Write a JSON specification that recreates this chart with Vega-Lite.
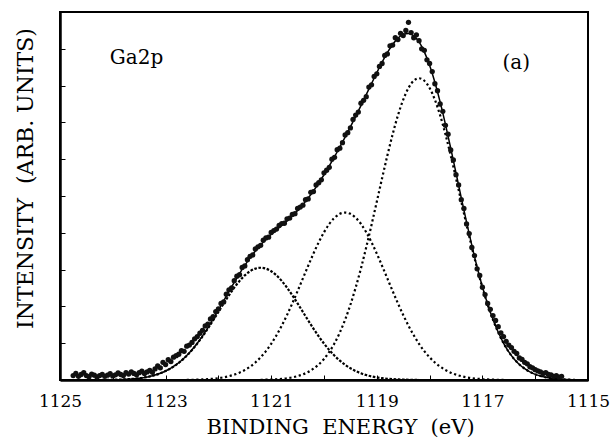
{
  "$schema": "https://vega.github.io/schema/vega-lite/v6.json",
  "width": 528,
  "height": 368,
  "autosize": {"type": "none"},
  "padding": {"left": 60, "top": 12, "right": 23, "bottom": 58},
  "background": "white",
  "config": {
    "view": {"stroke": "black", "strokeWidth": 2},
    "font": "DejaVu Serif",
    "axisY": {
      "values": [0,1,2,3,4,5,6,7,8,9,10],
      "labels": false,
      "grid": false,
      "domain": true,
      "domainColor": "black",
      "domainWidth": 2.5,
      "ticks": true,
      "tickSize": -5,
      "tickColor": "black",
      "tickWidth": 1,
      "titleFont": "DejaVu Serif",
      "titleFontSize": 22,
      "titleFontWeight": "normal",
      "titleColor": "black",
      "titleAngle": 270,
      "titleBaseline": "alphabetic",
      "titleAlign": "center",
      "titleX": -28,
      "titleY": 166
    },
    "axisX": {
      "grid": false,
      "domain": true,
      "domainColor": "black",
      "domainWidth": 2.5,
      "ticks": true,
      "tickSize": -5,
      "tickColor": "black",
      "tickWidth": 1,
      "labelFlush": false,
      "labelOverlap": false,
      "labelFont": "DejaVu Serif",
      "labelFontSize": 17,
      "labelColor": "black",
      "labelBaseline": "alphabetic",
      "labelPadding": 31,
      "titleFont": "DejaVu Serif",
      "titleFontSize": 21,
      "titleFontWeight": "normal",
      "titleColor": "black",
      "titleBaseline": "alphabetic",
      "titleX": 280,
      "titleY": 53
    }
  },
  "datasets": {
    "obs": [
      {"e":1124.75,"i":0.12},{"e":1124.70,"i":0.18},{"e":1124.65,"i":0.10},{"e":1124.60,"i":0.15},{"e":1124.55,"i":0.20},
      {"e":1124.50,"i":0.12},{"e":1124.45,"i":0.09},{"e":1124.40,"i":0.16},{"e":1124.35,"i":0.13},{"e":1124.30,"i":0.08},
      {"e":1124.25,"i":0.12},{"e":1124.20,"i":0.15},{"e":1124.15,"i":0.10},{"e":1124.10,"i":0.13},{"e":1124.05,"i":0.17},
      {"e":1124.00,"i":0.11},{"e":1123.95,"i":0.14},{"e":1123.90,"i":0.19},{"e":1123.85,"i":0.15},{"e":1123.80,"i":0.12},
      {"e":1123.75,"i":0.20},{"e":1123.70,"i":0.16},{"e":1123.65,"i":0.22},{"e":1123.60,"i":0.18},{"e":1123.55,"i":0.14},
      {"e":1123.50,"i":0.20},{"e":1123.45,"i":0.24},{"e":1123.40,"i":0.18},{"e":1123.35,"i":0.22},{"e":1123.30,"i":0.26},
      {"e":1123.25,"i":0.21},
      {"e":1123.20,"i":0.30},{"e":1123.15,"i":0.38},{"e":1123.10,"i":0.33},{"e":1123.05,"i":0.48},{"e":1123.00,"i":0.42},
      {"e":1122.95,"i":0.55},{"e":1122.90,"i":0.50},{"e":1122.85,"i":0.62},{"e":1122.80,"i":0.66},{"e":1122.75,"i":0.70},
      {"e":1122.70,"i":0.80},{"e":1122.65,"i":0.78},{"e":1122.60,"i":0.92},{"e":1122.55,"i":0.95},{"e":1122.50,"i":1.02},
      {"e":1122.45,"i":1.12},{"e":1122.40,"i":1.18},{"e":1122.35,"i":1.27},{"e":1122.30,"i":1.35},{"e":1122.25,"i":1.47},
      {"e":1122.20,"i":1.52},{"e":1122.15,"i":1.66},{"e":1122.10,"i":1.72},{"e":1122.05,"i":1.86},{"e":1122.00,"i":1.93},
      {"e":1121.95,"i":2.08},{"e":1121.90,"i":2.12},{"e":1121.85,"i":2.33},{"e":1121.80,"i":2.45},{"e":1121.75,"i":2.50},
      {"e":1121.70,"i":2.70},{"e":1121.65,"i":2.82},{"e":1121.60,"i":2.86},{"e":1121.55,"i":3.06},{"e":1121.50,"i":3.10},
      {"e":1121.45,"i":3.27},{"e":1121.40,"i":3.36},{"e":1121.35,"i":3.40},{"e":1121.30,"i":3.56},{"e":1121.25,"i":3.62},
      {"e":1121.20,"i":3.66},{"e":1121.15,"i":3.80},{"e":1121.10,"i":3.86},{"e":1121.05,"i":3.88},{"e":1121.00,"i":4.01},
      {"e":1120.95,"i":4.06},{"e":1120.90,"i":4.10},{"e":1120.85,"i":4.20},{"e":1120.80,"i":4.25},{"e":1120.75,"i":4.26},
      {"e":1120.70,"i":4.38},{"e":1120.65,"i":4.40},{"e":1120.60,"i":4.50},{"e":1120.55,"i":4.52},{"e":1120.50,"i":4.66},
      {"e":1120.45,"i":4.70},{"e":1120.40,"i":4.75},{"e":1120.35,"i":4.90},{"e":1120.30,"i":4.92},{"e":1120.25,"i":5.10},
      {"e":1120.20,"i":5.12},{"e":1120.15,"i":5.30},{"e":1120.10,"i":5.36},{"e":1120.05,"i":5.44},{"e":1120.00,"i":5.63},
      {"e":1119.95,"i":5.70},{"e":1119.90,"i":5.78},{"e":1119.85,"i":6.00},{"e":1119.80,"i":6.05},{"e":1119.75,"i":6.26},
      {"e":1119.70,"i":6.30},{"e":1119.65,"i":6.45},{"e":1119.60,"i":6.66},{"e":1119.55,"i":6.72},{"e":1119.50,"i":6.85},
      {"e":1119.45,"i":7.08},{"e":1119.40,"i":7.20},{"e":1119.35,"i":7.28},{"e":1119.30,"i":7.52},{"e":1119.25,"i":7.60},
      {"e":1119.20,"i":7.70},{"e":1119.15,"i":7.96},{"e":1119.10,"i":8.02},{"e":1119.05,"i":8.25},{"e":1119.00,"i":8.32},
      {"e":1118.95,"i":8.52},{"e":1118.90,"i":8.60},{"e":1118.85,"i":8.82},{"e":1118.80,"i":8.86},{"e":1118.75,"i":9.08},
      {"e":1118.70,"i":9.10},{"e":1118.65,"i":9.30},{"e":1118.60,"i":9.25},{"e":1118.55,"i":9.42},{"e":1118.50,"i":9.36},
      {"e":1118.45,"i":9.50},{"e":1118.40,"i":9.72},{"e":1118.35,"i":9.44},{"e":1118.30,"i":9.30},{"e":1118.25,"i":9.38},
      {"e":1118.20,"i":9.22},{"e":1118.15,"i":9.00},{"e":1118.10,"i":8.96},{"e":1118.05,"i":8.70},{"e":1118.00,"i":8.60},
      {"e":1117.95,"i":8.38},{"e":1117.90,"i":8.05},{"e":1117.85,"i":7.86},{"e":1117.80,"i":7.50},{"e":1117.75,"i":7.30},
      {"e":1117.70,"i":6.92},{"e":1117.65,"i":6.68},{"e":1117.60,"i":6.25},{"e":1117.55,"i":5.98},{"e":1117.50,"i":5.58},
      {"e":1117.45,"i":5.30},{"e":1117.40,"i":4.90},{"e":1117.35,"i":4.66},{"e":1117.30,"i":4.24},{"e":1117.25,"i":3.98},
      {"e":1117.20,"i":3.60},{"e":1117.15,"i":3.38},{"e":1117.10,"i":3.02},{"e":1117.05,"i":2.84},{"e":1117.00,"i":2.52},
      {"e":1116.95,"i":2.32},{"e":1116.90,"i":2.08},{"e":1116.85,"i":1.92},{"e":1116.80,"i":1.75},{"e":1116.75,"i":1.62},
      {"e":1116.70,"i":1.45},{"e":1116.65,"i":1.28},{"e":1116.60,"i":1.18},{"e":1116.55,"i":1.05},{"e":1116.50,"i":0.95},
      {"e":1116.45,"i":0.88},{"e":1116.40,"i":0.78},{"e":1116.35,"i":0.72},{"e":1116.30,"i":0.60},{"e":1116.25,"i":0.56},
      {"e":1116.20,"i":0.48},{"e":1116.15,"i":0.44},{"e":1116.10,"i":0.36},{"e":1116.05,"i":0.33},{"e":1116.00,"i":0.28},
      {"e":1115.95,"i":0.25},{"e":1115.90,"i":0.22},{"e":1115.85,"i":0.18},{"e":1115.80,"i":0.20},{"e":1115.75,"i":0.15},
      {"e":1115.70,"i":0.14},{"e":1115.65,"i":0.10},{"e":1115.60,"i":0.12},{"e":1115.55,"i":0.08},{"e":1115.50,"i":0.10}
    ],
    "fit": [
      {"e":1124.7,"c1":null,"c2":null,"c3":null,"t":0.0},
      {"e":1124.6,"c1":null,"c2":null,"c3":null,"t":0.0},
      {"e":1124.5,"c1":null,"c2":null,"c3":null,"t":0.001},
      {"e":1124.4,"c1":null,"c2":null,"c3":null,"t":0.001},
      {"e":1124.3,"c1":null,"c2":null,"c3":null,"t":0.002},
      {"e":1124.2,"c1":0.003,"c2":null,"c3":null,"t":0.003},
      {"e":1124.1,"c1":0.004,"c2":null,"c3":null,"t":0.004},
      {"e":1124.0,"c1":0.007,"c2":null,"c3":null,"t":0.007},
      {"e":1123.9,"c1":0.010,"c2":null,"c3":null,"t":0.010},
      {"e":1123.8,"c1":0.016,"c2":null,"c3":null,"t":0.016},
      {"e":1123.7,"c1":0.023,"c2":null,"c3":null,"t":0.023},
      {"e":1123.6,"c1":0.034,"c2":null,"c3":null,"t":0.034},
      {"e":1123.5,"c1":0.049,"c2":null,"c3":null,"t":0.049},
      {"e":1123.4,"c1":0.070,"c2":null,"c3":null,"t":0.070},
      {"e":1123.3,"c1":0.097,"c2":null,"c3":null,"t":0.097},
      {"e":1123.2,"c1":0.134,"c2":null,"c3":null,"t":0.134},
      {"e":1123.1,"c1":0.182,"c2":null,"c3":null,"t":0.182},
      {"e":1123.0,"c1":0.243,"c2":null,"c3":null,"t":0.244},
      {"e":1122.9,"c1":0.319,"c2":null,"c3":null,"t":0.320},
      {"e":1122.8,"c1":0.413,"c2":null,"c3":null,"t":0.415},
      {"e":1122.7,"c1":0.526,"c2":null,"c3":null,"t":0.529},
      {"e":1122.6,"c1":0.660,"c2":0.004,"c3":null,"t":0.664},
      {"e":1122.5,"c1":0.815,"c2":0.006,"c3":null,"t":0.821},
      {"e":1122.4,"c1":0.990,"c2":0.010,"c3":null,"t":1.000},
      {"e":1122.3,"c1":1.185,"c2":0.015,"c3":null,"t":1.200},
      {"e":1122.2,"c1":1.396,"c2":0.023,"c3":null,"t":1.419},
      {"e":1122.1,"c1":1.620,"c2":0.035,"c3":null,"t":1.655},
      {"e":1122.0,"c1":1.850,"c2":0.051,"c3":null,"t":1.901},
      {"e":1121.9,"c1":2.080,"c2":0.073,"c3":null,"t":2.153},
      {"e":1121.8,"c1":2.302,"c2":0.104,"c3":null,"t":2.406},
      {"e":1121.7,"c1":2.509,"c2":0.145,"c3":null,"t":2.654},
      {"e":1121.6,"c1":2.692,"c2":0.200,"c3":null,"t":2.892},
      {"e":1121.5,"c1":2.843,"c2":0.271,"c3":null,"t":3.114},
      {"e":1121.4,"c1":2.956,"c2":0.362,"c3":null,"t":3.320},
      {"e":1121.3,"c1":3.026,"c2":0.476,"c3":null,"t":3.505},
      {"e":1121.2,"c1":3.050,"c2":0.616,"c3":0.005,"t":3.671},
      {"e":1121.1,"c1":3.026,"c2":0.784,"c3":0.008,"t":3.818},
      {"e":1121.0,"c1":2.956,"c2":0.984,"c3":0.013,"t":3.953},
      {"e":1120.9,"c1":2.843,"c2":1.215,"c3":0.021,"t":4.079},
      {"e":1120.8,"c1":2.692,"c2":1.477,"c3":0.032,"t":4.201},
      {"e":1120.7,"c1":2.509,"c2":1.768,"c3":0.048,"t":4.325},
      {"e":1120.6,"c1":2.302,"c2":2.083,"c3":0.072,"t":4.457},
      {"e":1120.5,"c1":2.080,"c2":2.417,"c3":0.107,"t":4.604},
      {"e":1120.4,"c1":1.850,"c2":2.760,"c3":0.153,"t":4.763},
      {"e":1120.3,"c1":1.620,"c2":3.103,"c3":0.219,"t":4.942},
      {"e":1120.2,"c1":1.396,"c2":3.434,"c3":0.307,"t":5.137},
      {"e":1120.1,"c1":1.185,"c2":3.743,"c3":0.422,"t":5.350},
      {"e":1120.0,"c1":0.990,"c2":4.015,"c3":0.572,"t":5.577},
      {"e":1119.9,"c1":0.815,"c2":4.241,"c3":0.763,"t":5.819},
      {"e":1119.8,"c1":0.660,"c2":4.410,"c3":1.000,"t":6.070},
      {"e":1119.7,"c1":0.526,"c2":4.515,"c3":1.291,"t":6.332},
      {"e":1119.6,"c1":0.413,"c2":4.550,"c3":1.638,"t":6.601},
      {"e":1119.5,"c1":0.319,"c2":4.515,"c3":2.045,"t":6.879},
      {"e":1119.4,"c1":0.243,"c2":4.410,"c3":2.512,"t":7.165},
      {"e":1119.3,"c1":0.182,"c2":4.241,"c3":3.034,"t":7.457},
      {"e":1119.2,"c1":0.134,"c2":4.015,"c3":3.606,"t":7.755},
      {"e":1119.1,"c1":0.097,"c2":3.743,"c3":4.215,"t":8.055},
      {"e":1119.0,"c1":0.070,"c2":3.434,"c3":4.846,"t":8.350},
      {"e":1118.9,"c1":0.049,"c2":3.103,"c3":5.483,"t":8.635},
      {"e":1118.8,"c1":0.034,"c2":2.760,"c3":6.100,"t":8.894},
      {"e":1118.7,"c1":0.023,"c2":2.417,"c3":6.677,"t":9.117},
      {"e":1118.6,"c1":0.016,"c2":2.083,"c3":7.190,"t":9.289},
      {"e":1118.5,"c1":0.010,"c2":1.768,"c3":7.615,"t":9.393},
      {"e":1118.4,"c1":0.007,"c2":1.477,"c3":7.935,"t":9.419},
      {"e":1118.3,"c1":0.004,"c2":1.215,"c3":8.133,"t":9.352},
      {"e":1118.2,"c1":0.003,"c2":0.984,"c3":8.200,"t":9.187},
      {"e":1118.1,"c1":null,"c2":0.784,"c3":8.133,"t":8.917},
      {"e":1118.0,"c1":null,"c2":0.616,"c3":7.935,"t":8.551},
      {"e":1117.9,"c1":null,"c2":0.476,"c3":7.615,"t":8.091},
      {"e":1117.8,"c1":null,"c2":0.362,"c3":7.190,"t":7.552},
      {"e":1117.7,"c1":null,"c2":0.271,"c3":6.677,"t":6.948},
      {"e":1117.6,"c1":null,"c2":0.200,"c3":6.100,"t":6.300},
      {"e":1117.5,"c1":null,"c2":0.145,"c3":5.483,"t":5.628},
      {"e":1117.4,"c1":null,"c2":0.104,"c3":4.846,"t":4.950},
      {"e":1117.3,"c1":null,"c2":0.073,"c3":4.215,"t":4.288},
      {"e":1117.2,"c1":null,"c2":0.051,"c3":3.606,"t":3.657},
      {"e":1117.1,"c1":null,"c2":0.035,"c3":3.034,"t":3.069},
      {"e":1117.0,"c1":null,"c2":0.023,"c3":2.512,"t":2.535},
      {"e":1116.9,"c1":null,"c2":0.015,"c3":2.045,"t":2.060},
      {"e":1116.8,"c1":null,"c2":0.010,"c3":1.638,"t":1.648},
      {"e":1116.7,"c1":null,"c2":0.006,"c3":1.291,"t":1.297},
      {"e":1116.6,"c1":null,"c2":0.004,"c3":1.000,"t":1.004},
      {"e":1116.5,"c1":null,"c2":null,"c3":0.763,"t":0.763},
      {"e":1116.4,"c1":null,"c2":null,"c3":0.572,"t":0.572},
      {"e":1116.3,"c1":null,"c2":null,"c3":0.422,"t":0.422},
      {"e":1116.2,"c1":null,"c2":null,"c3":0.307,"t":0.307},
      {"e":1116.1,"c1":null,"c2":null,"c3":0.219,"t":0.219},
      {"e":1116.0,"c1":null,"c2":null,"c3":0.153,"t":0.153},
      {"e":1115.9,"c1":null,"c2":null,"c3":0.107,"t":0.107},
      {"e":1115.8,"c1":null,"c2":null,"c3":0.072,"t":0.072},
      {"e":1115.7,"c1":null,"c2":null,"c3":0.048,"t":0.048},
      {"e":1115.6,"c1":null,"c2":null,"c3":0.032,"t":0.032},
      {"e":1115.5,"c1":null,"c2":null,"c3":0.021,"t":0.021},
      {"e":1115.4,"c1":null,"c2":null,"c3":0.013,"t":0.013},
      {"e":1115.3,"c1":null,"c2":null,"c3":0.008,"t":0.008},
      {"e":1115.2,"c1":null,"c2":null,"c3":0.005,"t":0.005}
    ],
    "ann": [
      {"e":1123.55,"i":8.59,"label":"Ga2p"},
      {"e":1116.36,"i":8.45,"label":"(a)"}
    ]
  },
  "encoding": {
    "x": {
      "field": "e",
      "type": "quantitative",
      "scale": {"domain": [1115, 1125], "reverse": true, "nice": false, "zero": false},
      "axis": {
        "values": [1125,1124,1123,1122,1121,1120,1119,1118,1117,1116,1115],
        "labelExpr": "datum.value % 2 == 1 ? datum.label : ''",
        "format": "d"
      },
      "title": "BINDING\u00a0\u00a0ENERGY\u00a0\u00a0(eV)"
    }
  },
  "layer": [
    {
      "data": {"name": "fit"},
      "mark": {"type": "line", "color": "black", "strokeWidth": 2.2, "strokeDash": [2.6, 1.6], "interpolate": "monotone"},
      "encoding": {
        "y": {"field": "c1", "type": "quantitative", "scale": {"domain": [0, 10], "nice": false, "zero": true}, "title": "INTENSITY\u00a0\u00a0(ARB.\u00a0UNITS)"}
      }
    },
    {
      "data": {"name": "fit"},
      "mark": {"type": "line", "color": "black", "strokeWidth": 2.2, "strokeDash": [2.2, 2.6], "interpolate": "monotone"},
      "encoding": {"y": {"field": "c2", "type": "quantitative", "title": "INTENSITY\u00a0\u00a0(ARB.\u00a0UNITS)"}}
    },
    {
      "data": {"name": "fit"},
      "mark": {"type": "line", "color": "black", "strokeWidth": 2.2, "strokeDash": [2.2, 2.6], "interpolate": "monotone"},
      "encoding": {"y": {"field": "c3", "type": "quantitative", "title": "INTENSITY\u00a0\u00a0(ARB.\u00a0UNITS)"}}
    },
    {
      "data": {"name": "fit"},
      "mark": {"type": "line", "color": "black", "strokeWidth": 1.5, "interpolate": "monotone"},
      "encoding": {"y": {"field": "t", "type": "quantitative", "title": "INTENSITY\u00a0\u00a0(ARB.\u00a0UNITS)"}}
    },
    {
      "data": {"name": "obs"},
      "mark": {"type": "circle", "color": "#111111", "opacity": 1, "size": 28},
      "encoding": {"y": {"field": "i", "type": "quantitative", "title": "INTENSITY\u00a0\u00a0(ARB.\u00a0UNITS)"}}
    },
    {
      "data": {"name": "ann"},
      "mark": {"type": "text", "font": "DejaVu Serif", "fontSize": 20, "color": "black", "align": "center", "baseline": "alphabetic"},
      "encoding": {
        "y": {"field": "i", "type": "quantitative", "title": "INTENSITY\u00a0\u00a0(ARB.\u00a0UNITS)"},
        "text": {"field": "label"}
      }
    }
  ]
}
